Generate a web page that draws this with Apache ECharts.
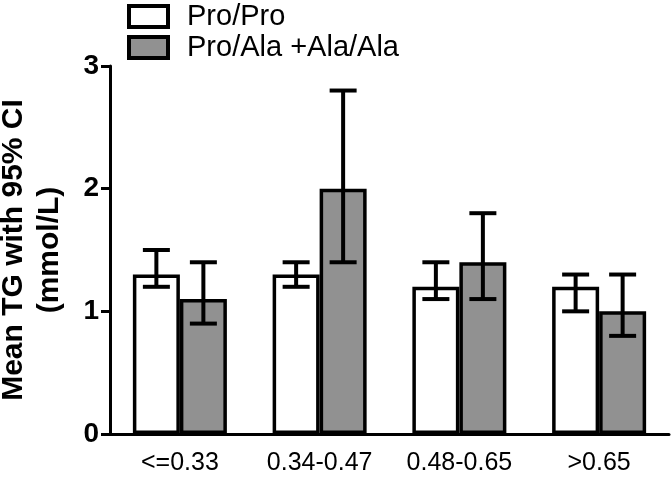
<!DOCTYPE html>
<html>
<head>
<meta charset="utf-8">
<script src="https://cdn.jsdelivr.net/npm/echarts@6/dist/echarts.min.js"></script>
<style>
    html, body { margin: 0; padding: 0; background: #fff; }
    #chart { width: 672px; height: 482px; }
</style>
</head>
<body>
<div id="chart"></div>
<script>
// 分组 (x 轴)
var categories = ['<=0.33', '0.34-0.47', '0.48-0.65', '>0.65'];
var seriesNames = ['Pro/Pro', 'Pro/Ala +Ala/Ala'];
// 均值
var proProMean = [1.3, 1.3, 1.2, 1.2];
var alaMean = [1.1, 2.0, 1.4, 1.0];
// 95% CI 下限 / 上限
var proProLow = [1.2, 1.2, 1.1, 1.0];
var proProHigh = [1.5, 1.4, 1.4, 1.3];
var alaLow = [0.9, 1.4, 1.1, 0.8];
var alaHigh = [1.4, 2.8, 1.8, 1.3];
var yTicks = [0, 1, 2, 3];

var barW = 47;
var font = '"Liberation Sans", Arial, sans-serif';

// 误差线数据: [类目, 下限, 上限, 组序号]
var errData = [];
categories.forEach(function (c, i) {
    errData.push([i, proProLow[i], proProHigh[i], 0]);
    errData.push([i, alaLow[i], alaHigh[i], 1]);
});

function renderErr(params, api) {
    var idx = api.value(0);
    var grp = api.value(3);
    var off = grp === 0 ? -barW / 2 : barW / 2;
    var lo = api.coord([idx, api.value(1)]);
    var hi = api.coord([idx, api.value(2)]);
    var x = lo[0] + off;
    var cap = 13.5;
    var style = { stroke: '#000', lineWidth: 4, fill: null };
    return {
        type: 'group',
        children: [
            { type: 'line', shape: { x1: x, y1: lo[1], x2: x, y2: hi[1] }, style: style },
            { type: 'line', shape: { x1: x - cap, y1: hi[1], x2: x + cap, y2: hi[1] }, style: style },
            { type: 'line', shape: { x1: x - cap, y1: lo[1], x2: x + cap, y2: lo[1] }, style: style }
        ]
    };
}

var myChart = echarts.init(document.getElementById('chart'));
var option = {
    animation: false,
    backgroundColor: '#fff',
    textStyle: { fontFamily: font },
    grid: { left: 110, right: 3, top: 66, bottom: 48, outerBoundsMode: 'none', containLabel: false },
    legend: {
        orient: 'vertical',
        left: 122,
        top: -3,
        icon: 'rect',
        itemWidth: 39,
        itemHeight: 21,
        itemGap: 2,
        formatter: '{t|{name}}',
        textStyle: {
            fontSize: 29, color: '#000', fontFamily: font,
            rich: { t: { fontSize: 29, color: '#000', fontFamily: font, padding: [0, 0, 0, 14] } }
        },
        data: [
            { name: seriesNames[0], itemStyle: { color: '#fff', borderColor: '#000', borderWidth: 4 } },
            { name: seriesNames[1], itemStyle: { color: '#919191', borderColor: '#000', borderWidth: 4 } }
        ]
    },
    xAxis: {
        type: 'category',
        data: categories,
        axisLine: { lineStyle: { color: '#000', width: 3 } },
        axisTick: { alignWithLabel: true, length: 12, lineStyle: { color: '#000', width: 3 } },
        axisLabel: { color: '#000', fontSize: 25, margin: 17, interval: 0, hideOverlap: false, fontFamily: font }
    },
    yAxis: {
        type: 'value',
        min: yTicks[0],
        max: yTicks[yTicks.length - 1],
        interval: 1,
        name: 'Mean TG with 95% CI\n(mmol/L)',
        nameLocation: 'middle',
        nameGap: 42,
        nameTextStyle: { fontSize: 30, fontWeight: 'bold', color: '#000', lineHeight: 36, fontFamily: font },
        splitLine: { show: false },
        axisLine: { show: true, lineStyle: { color: '#000', width: 3 } },
        axisTick: { show: true, length: 9, lineStyle: { color: '#000', width: 3 } },
        axisLabel: { color: '#000', fontSize: 28, fontWeight: 'bold', margin: 11, fontFamily: font }
    },
    series: [
        {
            name: seriesNames[0],
            type: 'bar',
            barWidth: barW,
            barGap: '0%',
            data: proProMean,
            itemStyle: { color: '#fff', borderColor: '#000', borderWidth: 3.5 }
        },
        {
            name: seriesNames[1],
            type: 'bar',
            barWidth: barW,
            data: alaMean,
            itemStyle: { color: '#919191', borderColor: '#000', borderWidth: 3.5 }
        },
        {
            type: 'custom',
            renderItem: renderErr,
            data: errData,
            z: 5
        }
    ]
};
myChart.setOption(option);
</script>
</body>
</html>
